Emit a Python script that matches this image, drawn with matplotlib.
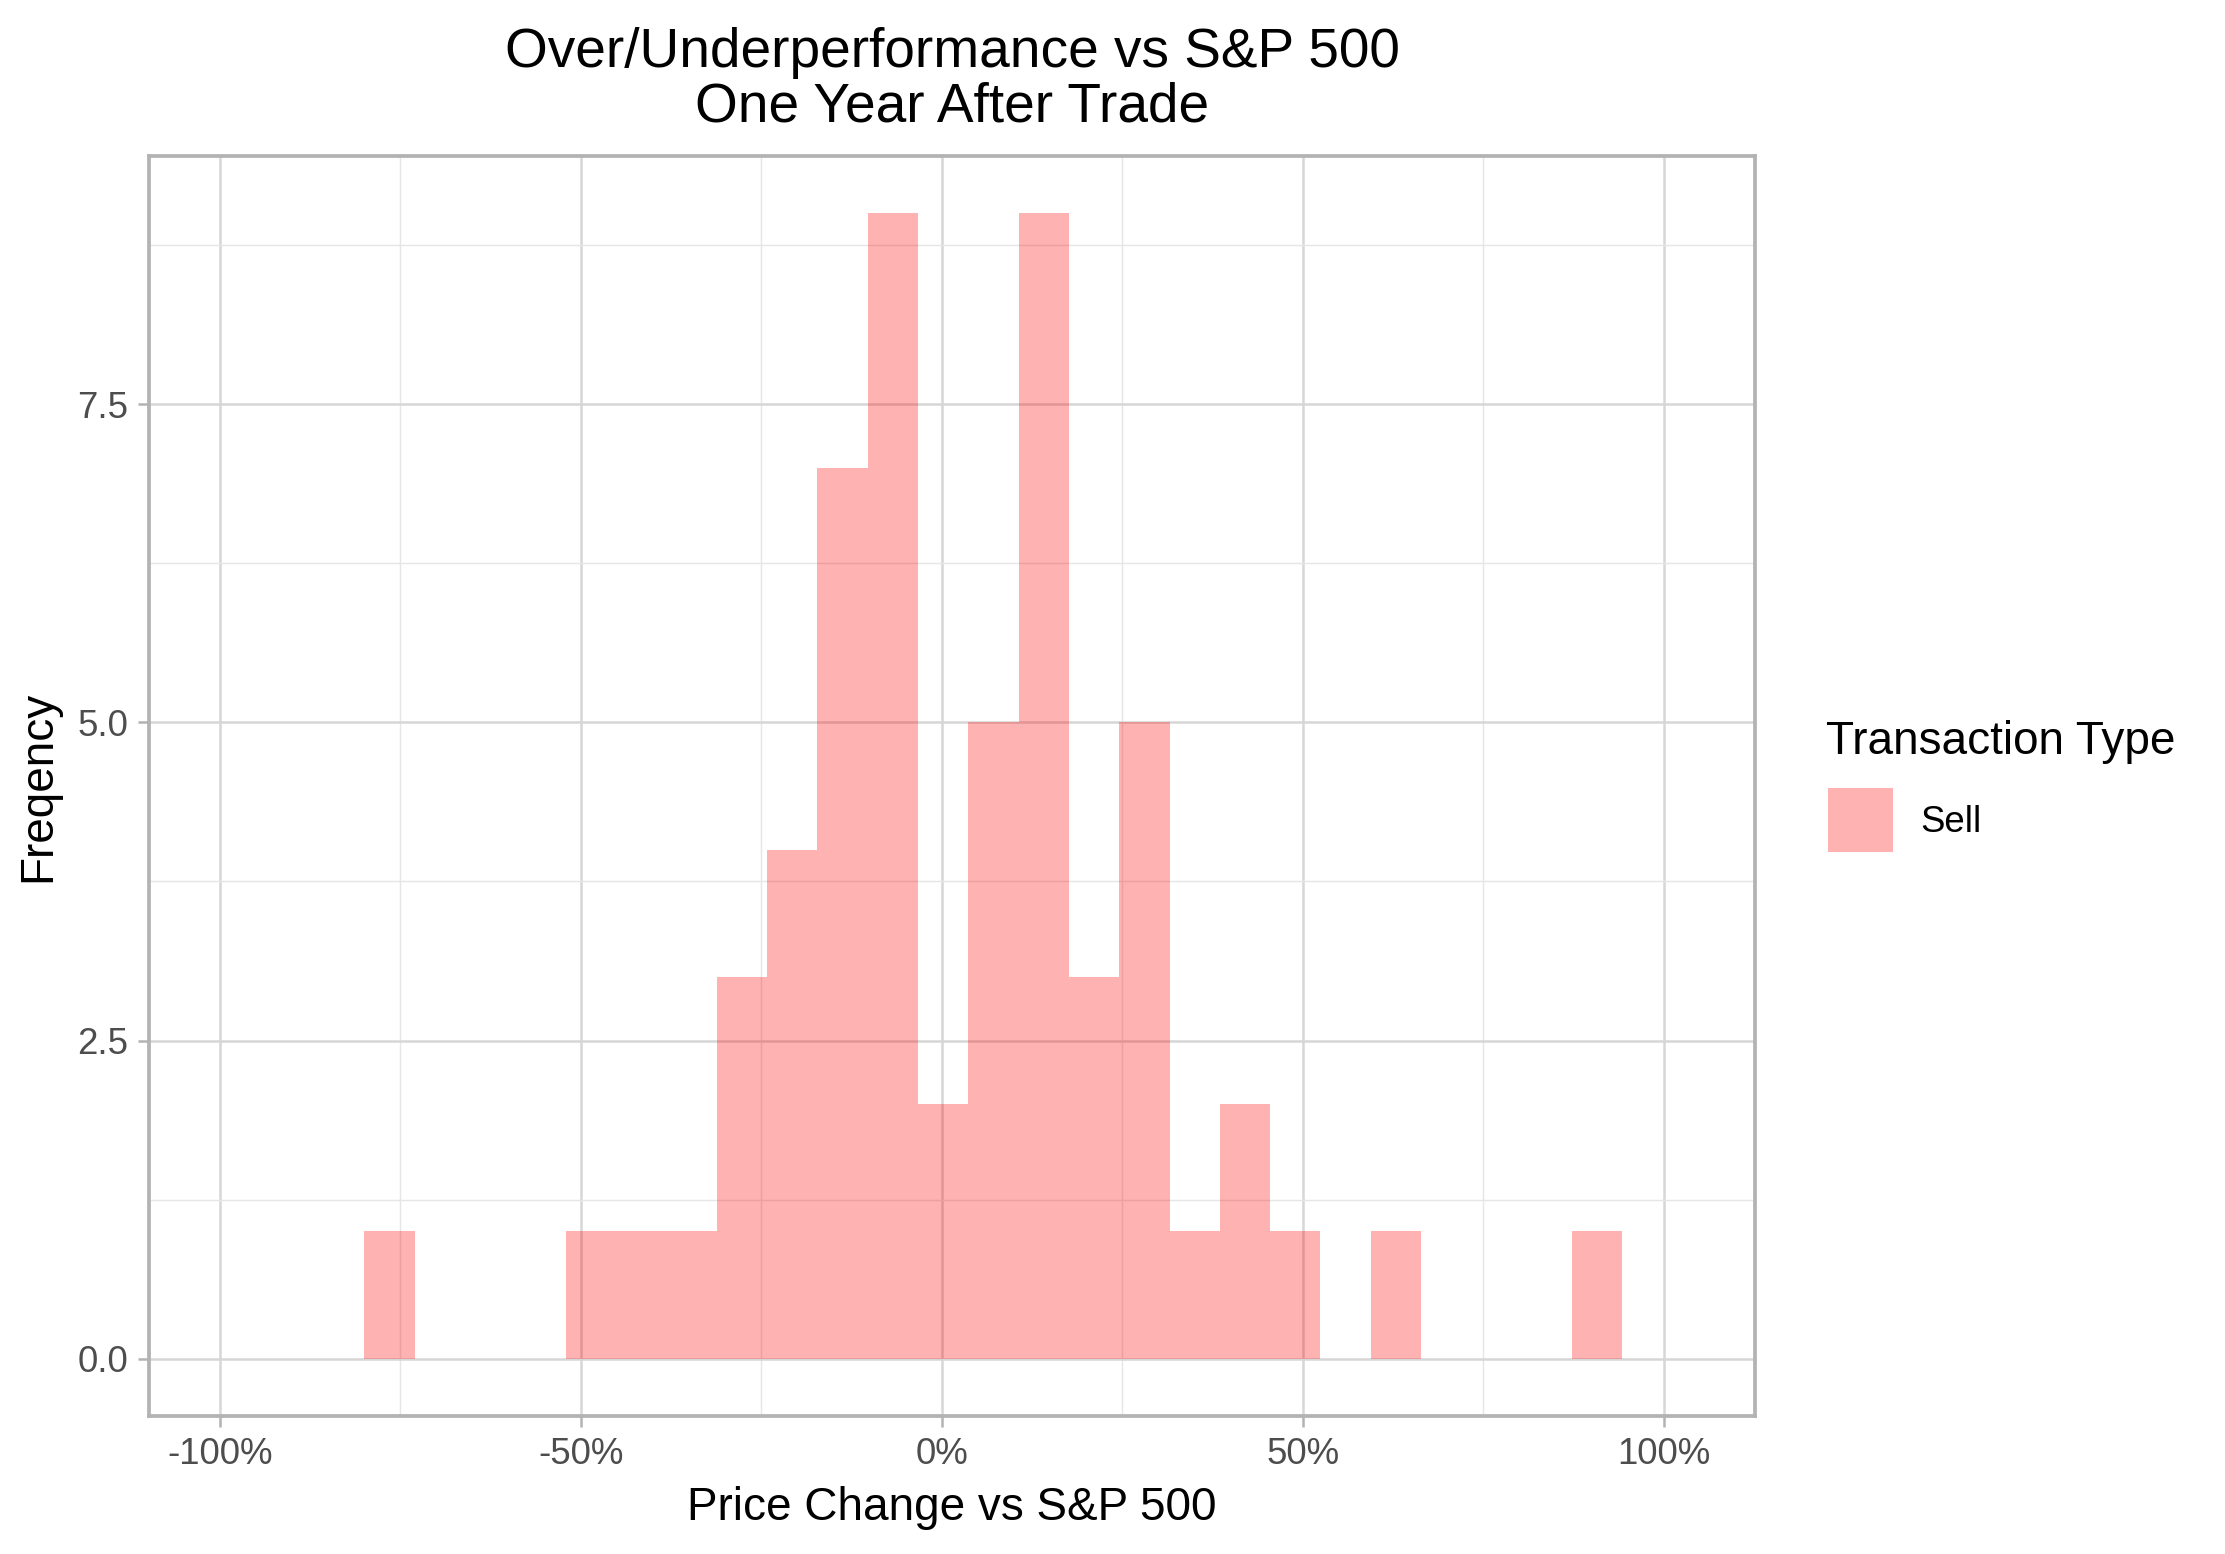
import numpy as np
import matplotlib
matplotlib.use("Agg")
import matplotlib.pyplot as plt
import matplotlib.patches as mpatches
from matplotlib.ticker import FixedLocator, FuncFormatter

# histogram of over/underperformance one year after a "Sell" trade
BIN_START = -0.800     # left edge of first bin (fraction, not %)
BIN_WIDTH = 0.0697
COUNTS = [1, 0, 0, 0, 1, 1, 1, 3, 4, 7, 9, 2, 5, 9, 3, 5, 1, 2, 1, 0, 1, 0, 0, 0, 1]
X_TICKS = [-1.0, -0.5, 0.0, 0.5, 1.0]
X_MINOR = [-0.75, -0.25, 0.25, 0.75]
Y_TICKS = [0.0, 2.5, 5.0, 7.5]
Y_MINOR = [1.25, 3.75, 6.25, 8.75]
LEGEND_LABEL = "Sell"

FILL = "red"
ALPHA = 0.3
GRID = "#D6D6D6"
GRID_MINOR = "#E6E6E6"
BORDER = "#B3B3B3"
TEXT_GREY = "#4D4D4D"

plt.rcParams["font.family"] = ["Liberation Sans", "DejaVu Sans"]

W, H = 2225, 1554
DPI = 300
fig = plt.figure(figsize=(W / DPI, H / DPI), dpi=DPI)

# panel position in pixels
left, right, top, bottom = 149, 1755, 156, 1416
ax = fig.add_axes([left / W, 1 - bottom / H, (right - left) / W, (bottom - top) / H])

lefts = BIN_START + BIN_WIDTH * np.arange(len(COUNTS))
ax.bar(lefts, COUNTS, width=BIN_WIDTH, align="edge", color=FILL, alpha=ALPHA,
       linewidth=0, zorder=3)

ax.set_xlim(-1.098, 1.126)
ax.set_ylim(-0.45, 9.45)

ax.xaxis.set_major_locator(FixedLocator(X_TICKS))
ax.xaxis.set_minor_locator(FixedLocator(X_MINOR))
ax.yaxis.set_major_locator(FixedLocator(Y_TICKS))
ax.yaxis.set_minor_locator(FixedLocator(Y_MINOR))
ax.xaxis.set_major_formatter(FuncFormatter(lambda v, p: "{:.0f}%".format(v * 100 + 0.0)))
ax.yaxis.set_major_formatter(FuncFormatter(lambda v, p: "{:.1f}".format(v)))

ax.grid(which="major", color=GRID, linewidth=0.6, zorder=1)
ax.grid(which="minor", color=GRID_MINOR, linewidth=0.35, zorder=1)
ax.set_axisbelow(True)

for s in ax.spines.values():
    s.set_color(BORDER)
    s.set_linewidth(0.9)

ax.tick_params(which="major", length=2.75, width=0.6, color=BORDER, labelsize=8.8,
               labelcolor=TEXT_GREY, pad=2.2)
ax.tick_params(which="minor", length=0)

ax.set_xlabel("Price Change vs S&P 500", fontsize=11, labelpad=3.5)
ax.set_ylabel("Freqency", fontsize=11, labelpad=4)

fig.text(0.5 * (left + right) / W, 1 - 80 / H,
         "Over/Underperformance vs S&P 500\nOne Year After Trade",
         ha="center", va="center", fontsize=13.2, linespacing=1.07)

# legend, placed by hand like ggplot's right-hand guide
fig.text(1826 / W, 1 - 742 / H, "Transaction Type", fontsize=11, ha="left", va="center")
key = mpatches.Rectangle((1828 / W, 1 - 852 / H), 65 / W, 64 / H, transform=fig.transFigure,
                         facecolor=FILL, alpha=ALPHA, linewidth=0)
fig.patches.append(key)
fig.text(1920 / W, 1 - 823 / H, LEGEND_LABEL, fontsize=8.8, ha="left", va="center")

fig.savefig("out.png", dpi=DPI, facecolor="white")
